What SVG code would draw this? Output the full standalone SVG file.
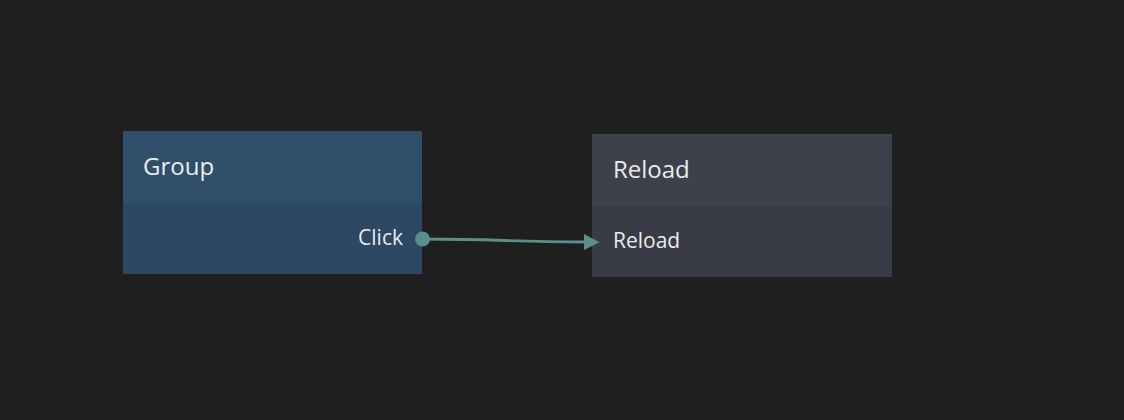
<svg xmlns="http://www.w3.org/2000/svg" width="1124" height="420" viewBox="0 0 1124 420">
<style>
.t{font-family:"Open Sans","Noto Sans",sans-serif;fill:#ebebeb}
.title{font-size:24px}
.port{font-size:21px}
.wire{fill:none;stroke:#5a8f8b;stroke-width:2.8}
.head{fill:#5a8f8b}
</style>
<rect width="1124" height="420" fill="#1f1f1f"/>
<g id="node-group">
<rect x="123" y="131" width="299" height="143" fill="#2c4863"/>
<rect x="123" y="131" width="299" height="72" fill="#304f6b"/>
<text class="t title" x="143" y="175">Group</text>
<text class="t port" x="403" y="245" text-anchor="end">Click</text>
</g>
<g id="node-reload">
<rect x="592" y="134" width="300" height="143" fill="#393c47"/>
<rect x="592" y="134" width="300" height="72" fill="#3d414c"/>
<text class="t title" x="613" y="178">Reload</text>
<text class="t port" x="613" y="248">Reload</text>
</g>
<g id="connectors">
<path class="wire" d="M422,239 C500,239 510,242 586,242"/>
<path class="head" d="M584,234 L599.5,242.2 L584,250 Z"/>
<circle cx="422.5" cy="239" r="7.5" fill="#5a8f8b"/>
</g>
</svg>
